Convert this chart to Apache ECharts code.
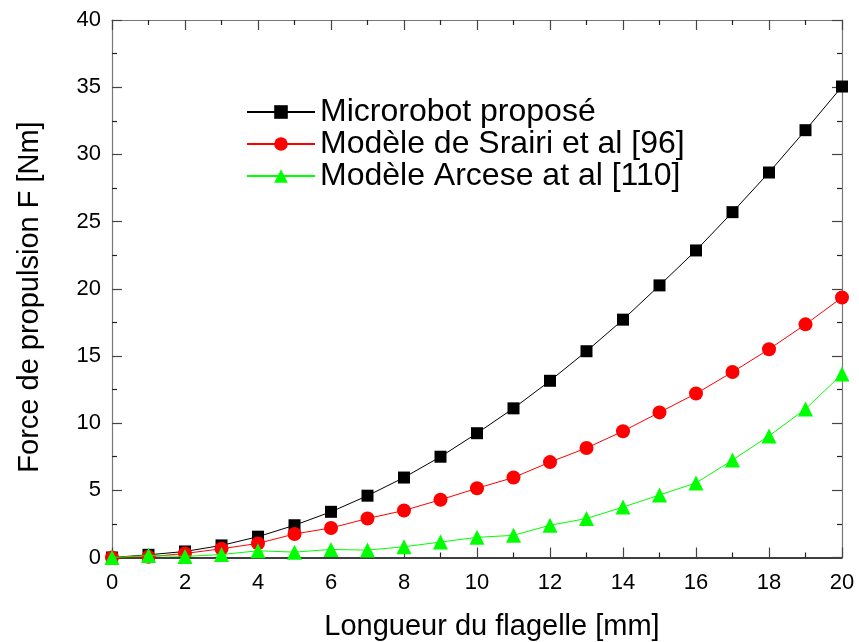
<!DOCTYPE html>
<html>
<head>
<meta charset="utf-8">
<script src="https://cdn.jsdelivr.net/npm/echarts@6/dist/echarts.min.js"></script>
<style>
  html, body { margin: 0; padding: 0; background: #fff; }
  #chart { width: 859px; height: 642px; }
</style>
</head>
<body>
<div id="chart"></div>
<script>
// Flagellum length [mm]
const lengths = [0, 1, 2, 3, 4, 5, 6, 7, 8, 9, 10, 11, 12, 13, 14, 15, 16, 17, 18, 19, 20];
// Propulsion force per model
const microrobot = [0, 0.2, 0.45, 0.9, 1.55, 2.4, 3.4, 4.6, 5.95, 7.5, 9.25, 11.1, 13.15, 15.35, 17.7, 20.25, 22.85, 25.7, 28.65, 31.8, 35.05];
const srairi = [0, 0.05, 0.3, 0.65, 1.05, 1.75, 2.2, 2.9, 3.5, 4.3, 5.15, 5.95, 7.1, 8.15, 9.4, 10.8, 12.2, 13.8, 15.5, 17.35, 19.35];
const arcese = [0, 0.15, 0.08, 0.22, 0.5, 0.4, 0.6, 0.55, 0.8, 1.15, 1.5, 1.65, 2.4, 2.9, 3.75, 4.65, 5.55, 7.25, 9.05, 11.05, 13.65];
const seriesNames = ['Microrobot proposé', 'Modèle de Srairi et al [96]', 'Modèle Arcese at al [110]'];
const xTitle = 'Longueur du flagelle [mm]';
const yTitle = 'Force de propulsion F [Nm]';

const FONT = "'Liberation Sans', Arial, sans-serif";
const pairs = (ys) => lengths.map((x, i) => [x, ys[i]]);

const frameAxis = (extra) => Object.assign({
  type: 'value',
  axisLine: { show: true, onZero: false, lineStyle: { color: '#777', width: 1.2 } },
  axisTick: { show: true, inside: true, length: 10, lineStyle: { color: '#444', width: 1.2 } },
  minorTick: { show: true, splitNumber: 2, length: 5, lineStyle: { color: '#222', width: 1.2 } },
  splitLine: { show: false },
  axisLabel: { show: false }
}, extra);

const chart = echarts.init(document.getElementById('chart'), null, { renderer: 'canvas' });
chart.setOption({
  animation: false,
  backgroundColor: '#fff',
  grid: { left: 112, right: 17, top: 20, bottom: 84.5, containLabel: false },
  xAxis: [
    frameAxis({
      position: 'bottom', min: 0, max: 20, interval: 2,
      axisLine: { show: true, onZero: false, lineStyle: { color: '#000', width: 1.5 } },
      axisLabel: { show: true, fontSize: 22, fontFamily: FONT, color: '#000', margin: 14 }
    }),
    frameAxis({ position: 'top', min: 0, max: 20, interval: 2 })
  ],
  yAxis: [
    frameAxis({
      position: 'left', min: 0, max: 40, interval: 5,
      axisLabel: { show: true, fontSize: 22, fontFamily: FONT, color: '#000', margin: 11 }
    }),
    frameAxis({ position: 'right', min: 0, max: 40, interval: 5 })
  ],
  legend: {
    orient: 'vertical',
    left: 246,
    top: 96,
    padding: 0,
    itemWidth: 68,
    itemHeight: 17,
    itemGap: 0,
    itemTextGap: 9,
    textStyle: { fontSize: 32, lineHeight: 32, color: '#000', fontFamily: FONT },
    data: seriesNames
  },
  series: [
    {
      name: seriesNames[0], type: 'line', data: pairs(microrobot),
      symbol: 'rect', symbolSize: 12,
      itemStyle: { color: '#000' },
      lineStyle: { color: '#000', width: 1 }, z: 2
    },
    {
      name: seriesNames[1], type: 'line', data: pairs(srairi),
      symbol: 'circle', symbolSize: 14,
      itemStyle: { color: '#ff0000' },
      lineStyle: { color: '#ff0000', width: 1 }, z: 3
    },
    {
      name: seriesNames[2], type: 'line', data: pairs(arcese),
      symbol: 'triangle', symbolSize: 15,
      itemStyle: { color: '#00ff00' },
      lineStyle: { color: '#00ff00', width: 1 }, z: 4
    }
  ],
  graphic: [
    {
      type: 'text', x: 492, y: 627,
      style: { text: xTitle, font: '29px ' + FONT, fill: '#000', align: 'center', verticalAlign: 'middle' }
    },
    {
      type: 'text', x: 30, y: 297, rotation: Math.PI / 2,
      style: { text: yTitle, font: '29px ' + FONT, fill: '#000', align: 'center', verticalAlign: 'middle' }
    }
  ]
});
</script>
</body>
</html>
